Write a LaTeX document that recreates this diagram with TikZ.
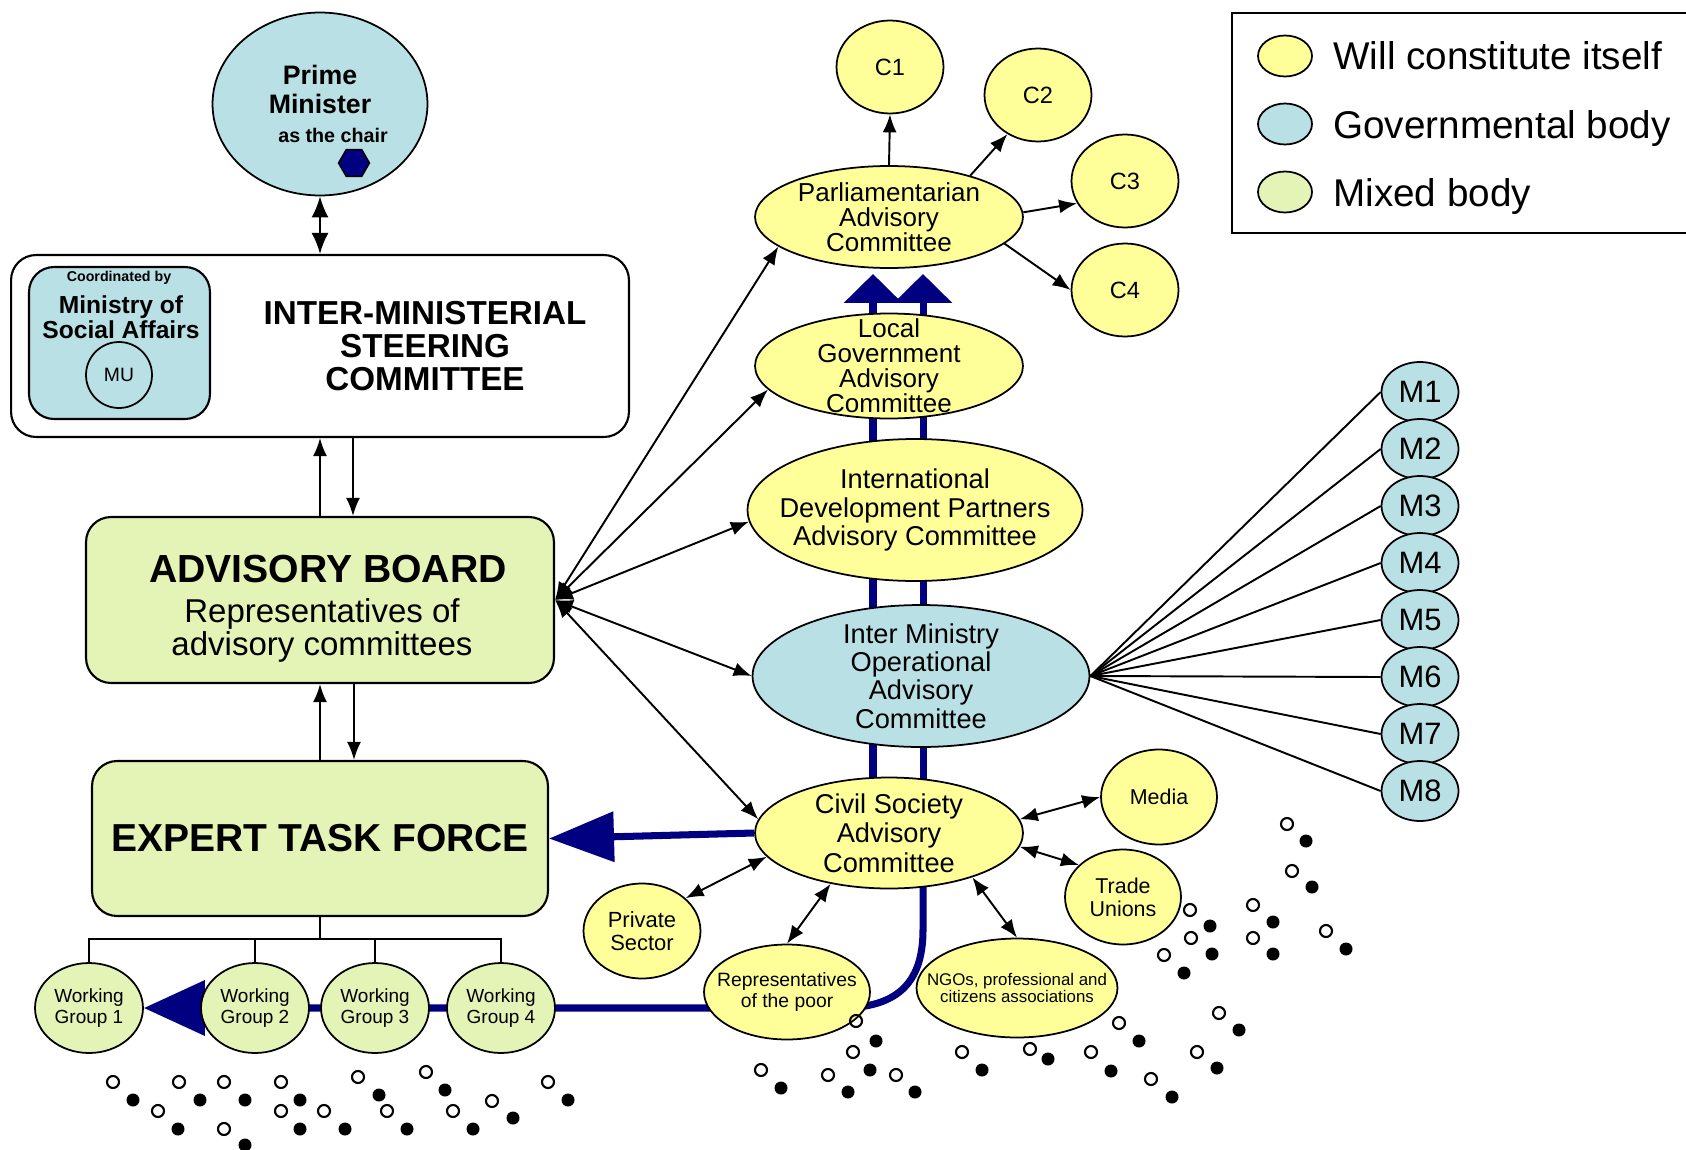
\documentclass[tikz,border=0pt]{standalone}
\usepackage{fontspec}
\setmainfont{Liberation Sans}
\usetikzlibrary{arrows.meta}
\usetikzlibrary{positioning,shapes.geometric,backgrounds,calc}

\definecolor{willcol}{RGB}{255,255,153}
\definecolor{govcol}{RGB}{185,224,228}
\definecolor{mixcol}{RGB}{228,243,182}
\definecolor{navyblue}{RGB}{0,0,128}

\newcommand{\setfs}[2]{\fontsize{#1}{#2}\selectfont\lineskiplimit=-\maxdimen}

\tikzset{
    bodynode/.style={
        draw,
        ellipse,
        line width=1pt,
        inner xsep=-0.4cm,
        inner ysep=-0.3cm,
        align=center
    },
    willbody/.style={bodynode, fill=willcol},
    govbody/.style={bodynode, fill=govcol},
    mixbody/.style={bodynode, fill=mixcol},
    roundbox/.style={
        draw,
        rectangle,
        rounded corners=0.5cm,
        line width=1.2pt,
        align=center
    },
    cnode/.style={willbody, minimum width=2.14cm, minimum height=1.86cm, font=\setfs{13.4}{14}},
    arr/.style={line width=1.1pt, -{Latex[length=0.36cm, width=0.28cm]}},
    dblarr/.style={line width=1.1pt, {Latex[length=0.36cm, width=0.28cm]}-{Latex[length=0.36cm, width=0.28cm]}},
    bigdblarr/.style={line width=1.2pt, {Latex[length=0.42cm, width=0.34cm]}-{Latex[length=0.42cm, width=0.34cm]}},
    navyline/.style={draw=navyblue, line width=4pt}
}

\begin{document}
\begin{tikzpicture}[x=0.02cm, y=-0.02cm]
    \useasboundingbox (0,0) rectangle (1686,1149);

    % Steering level
    \node[govbody, minimum width=4.3cm, minimum height=3.66cm, font=\bfseries\setfs{15.2}{16.4}] (pm) at (320,104)
        {Prime\\Minister\\\hspace*{0.52cm}\setfs{11.2}{16.4}as the chair};
    \node[regular polygon, regular polygon sides=6, draw, line width=0.8pt, fill=navyblue,
        minimum size=0.62cm, inner sep=0pt] (chair) at (354,163) {};
    \node[roundbox, fill=white, minimum width=12.36cm, minimum height=3.64cm] (imsc) at (320,346) {};
    \node[roundbox, fill=govcol, minimum width=3.62cm, minimum height=3.04cm] (msa) at (119.5,343) {};
    \node[font=\bfseries\setfs{8.1}{9}] (coordby) at (119,278) {Coordinated by};
    \node[font=\bfseries\setfs{14}{14.2}, align=center] (msaname) at (121,317) {Ministry of\\Social Affairs};
    \node[circle, draw, line width=1pt, minimum size=1.32cm, inner sep=0pt, font=\setfs{11}{12}] (mu) at (119,375) {MU};
    \node[font=\bfseries\setfs{18.9}{18.9}, align=center] (imsctitle) at (425,346) {INTER-MINISTERIAL\\STEERING\\COMMITTEE};

    % Board and task force
    \node[roundbox, fill=mixcol, minimum width=9.36cm, minimum height=3.32cm] (adv) at (320,600) {};
    \node[font=\bfseries\setfs{22.3}{22.3}] (advtitle) at (328,569) {ADVISORY BOARD};
    \node[font=\setfs{18.8}{18.8}, align=center] (advsub) at (322,630) {Representatives of\\advisory committees};
    \node[roundbox, fill=mixcol, minimum width=9.12cm, minimum height=3.1cm, font=\bfseries\setfs{22.2}{22.2}] (etf) at (320,838.5) {EXPERT TASK FORCE};
    \foreach \i/\x in {1/89, 2/255, 3/375, 4/501}
        \node[mixbody, minimum width=2.16cm, minimum height=1.8cm, font=\setfs{10.8}{11.5}] (wg\i) at (\x,1008) {Working\\Group \i};

    % Advisory committees
    \node[willbody, minimum width=5.36cm, minimum height=2.04cm, font=\setfs{14.8}{14.2}] (pac) at (889,217) {Parliamentarian\\Advisory\\Committee};
    \node[willbody, minimum width=5.36cm, minimum height=2.1cm, font=\setfs{14.8}{14.2}] (lgac) at (889,366) {Local\\Government\\Advisory\\Committee};
    \node[willbody, minimum width=6.7cm, minimum height=2.84cm, font=\setfs{15.5}{16.2}] (idpac) at (915,510) {International\\Development Partners\\Advisory Committee};
    \node[govbody, minimum width=6.74cm, minimum height=2.84cm, font=\setfs{15.5}{16.2}] (imoac) at (921,676) {Inter Ministry\\Operational\\Advisory\\Committee};
    \node[willbody, minimum width=5.36cm, minimum height=2.22cm, font=\setfs{15.5}{16.8}] (cs) at (889,833) {Civil Society\\Advisory\\Committee};

    \node[cnode] (c1) at (890,67) {C1};
    \node[cnode] (c2) at (1038,95) {C2};
    \node[cnode] (c3) at (1125,181) {C3};
    \node[cnode] (c4) at (1125,290) {C4};
    \foreach \i in {1,...,8}
        \node[govbody, minimum width=1.54cm, minimum height=1.2cm, font=\setfs{17.6}{18}] (m\i) at (1420,{335+57*\i}) {M\i};

    \node[willbody, minimum width=2.32cm, minimum height=1.9cm, font=\setfs{12.2}{13}] (media) at (1159,797) {Media};
    \node[willbody, minimum width=2.32cm, minimum height=1.9cm, font=\setfs{12.2}{13}] (unions) at (1123,897) {Trade\\Unions};
    \node[willbody, minimum width=2.34cm, minimum height=1.9cm, font=\setfs{12.5}{12.8}] (private) at (642,931) {Private\\Sector};
    \node[willbody, minimum width=3.32cm, minimum height=1.9cm, font=\setfs{11}{11.4}] (poor) at (787,992) {Representatives\\of the poor};
    \node[willbody, minimum width=4.02cm, minimum height=1.98cm, font=\setfs{9.6}{9.4}] (ngos) at (1017,988) {NGOs, professional and\\citizens associations};

    % Legend
    \node[draw, line width=1.2pt, minimum width=9.4cm, minimum height=4.4cm, anchor=north west] (legend) at (1231,12) {};
    \node[willbody, minimum width=1.08cm, minimum height=0.82cm] (keywill) at (1285,56) {};
    \node[govbody, minimum width=1.08cm, minimum height=0.82cm] (keygov) at (1285,124) {};
    \node[mixbody, minimum width=1.08cm, minimum height=0.82cm] (keymix) at (1285,192) {};
    \node[anchor=base west, inner xsep=0pt, font=\setfs{22}{22}] (keywilltext) at (1333,70) {Will constitute itself};
    \node[anchor=base west, inner xsep=0pt, font=\setfs{22}{22}] (keygovtext) at (1333,138) {Governmental body};
    \node[anchor=base west, inner xsep=0pt, font=\setfs{22}{22}] (keymixtext) at (1333,206) {Mixed body};

    % Navy flows
    \coordinate (tipl) at (873,274);
    \coordinate (tipr) at (923,274);
    \begin{scope}[on background layer]
        \draw[navyline, -{Triangle[length=0.58cm, width=1.14cm]}] (cs.center -| tipl) -- (tipl);
        \draw[navyline, -{Triangle[length=0.58cm, width=1.14cm]}] (cs.center -| tipr) -- (tipr);
        \draw[navyline, -{Triangle[length=1.3cm, width=0.98cm]}] (cs.west) -- (etf.east);
        \draw[navyline, -{Triangle[length=1.22cm, width=1.08cm]}] (cs.center -| tipr) -- ++(0,97)
            .. controls (923,985) and (895,1008) .. (840,1008) -- (wg1.east);
    \end{scope}

    % Edges
    \draw[bigdblarr] (pm.south) -- (imsc.north);
    \draw[arr] (adv.north) -- (imsc.south);
    \draw[arr] ([xshift=0.66cm]imsc.south) -- ([xshift=0.66cm]adv.north);
    \draw[arr] (etf.north) -- (adv.south);
    \draw[arr] ([xshift=0.68cm]adv.south) -- ([xshift=0.68cm]etf.north);
    \draw[line width=0.9pt] (etf.south) -- ++(0,22) coordinate (fork);
    \foreach \i in {1,...,4}
        \draw[line width=0.9pt] (fork) -| (wg\i.north);

    \foreach \t in {pac.195, lgac.191, idpac.184, imoac.west, cs.174}
        \draw[dblarr] (adv.east) -- (\t);

    \draw[arr] (pac.north) -- (c1.south);
    \draw[arr] (pac.27) -- (c2.232);
    \draw[arr] (pac.2) -- (c3.205);
    \draw[arr] (pac.-13) -- (c4.west);

    \foreach \i in {1,...,8}
        \draw[line width=1.1pt] (imoac.east) -- (m\i.west);

    \draw[dblarr] (cs.6) -- (media.west);
    \draw[dblarr] (cs.-6) -- (unions.144);
    \draw[dblarr] (cs.191) -- (private.37);
    \draw[dblarr] (cs.221) -- (poor.north);
    \draw[dblarr] (cs.-28) -- (ngos.north);

    % People
    \foreach \x/\y in {113/1082, 179/1082, 224/1082, 281/1082, 358/1077, 426/1072, 548/1082,
        158/1111, 281/1111, 324/1111, 387/1111, 453/1111, 492/1101, 224/1129,
        761/1070, 828/1075, 853/1052, 856/1021, 896/1075, 962/1052, 1030/1049, 1091/1052,
        1119/1023, 1151/1079, 1197/1052, 1219/1013, 1164/955, 1190/910, 1191/938, 1253/905,
        1253/938, 1326/931, 1287/824, 1292/871}
        \draw[line width=1.2pt] (\x,\y) circle[radius=0.12cm];
    \foreach \x/\y in {133/1100, 200/1100, 245/1100, 300/1100, 379/1095, 445/1090, 568/1100,
        178/1129, 300/1129, 345/1129, 407/1129, 473/1129, 513/1118, 245/1145,
        781/1088, 848/1092, 870/1070, 876/1041, 915/1092, 982/1070, 1048/1059, 1111/1071,
        1139/1041, 1172/1097, 1217/1068, 1239/1030, 1184/973, 1210/926, 1212/954, 1273/922,
        1273/954, 1346/949, 1306/841, 1312/887}
        \fill (\x,\y) circle[radius=0.13cm];
\end{tikzpicture}
\end{document}
